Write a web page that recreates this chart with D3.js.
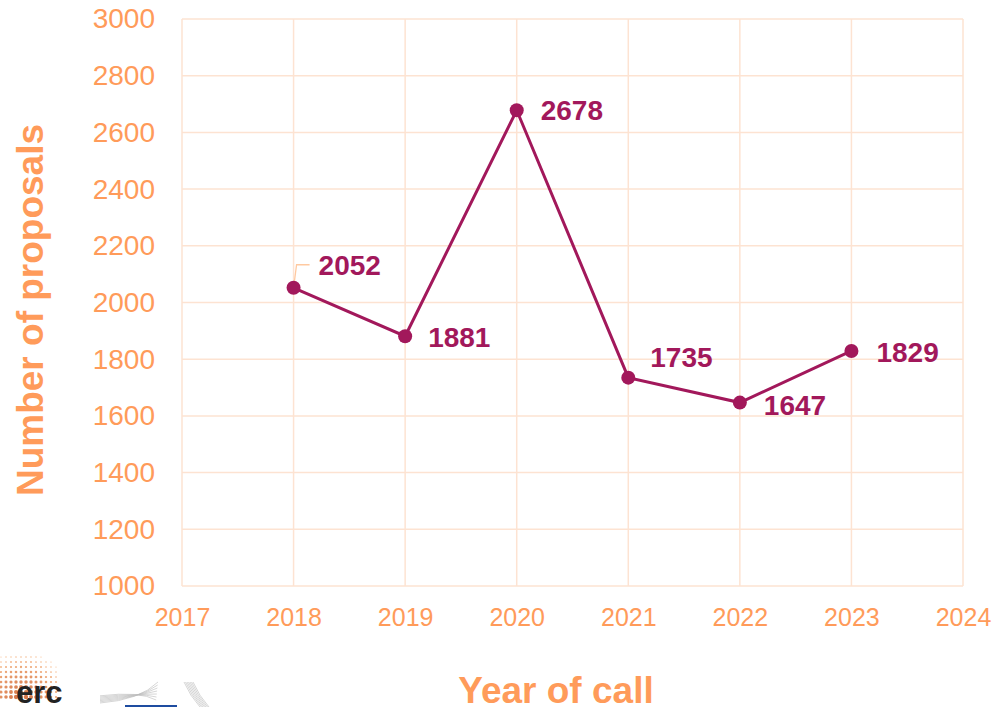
<!DOCTYPE html>
<html>
<head>
<meta charset="utf-8">
<script src="https://d3js.org/d3.v7.min.js"></script>
<style>
  body { margin: 0; background: #fff; }
  svg { font-family: "Liberation Sans", Arial, sans-serif; }
</style>
</head>
<body>
<svg width="992" height="707"></svg>
<script>
    const years = [2018, 2019, 2020, 2021, 2022, 2023];
    const proposals = [2052, 1881, 2678, 1735, 1647, 1829];
    const xTickValues = [2017, 2018, 2019, 2020, 2021, 2022, 2023, 2024];
    const yTickValues = [1000, 1200, 1400, 1600, 1800, 2000, 2200, 2400, 2600, 2800, 3000];
    // label offsets in px relative to the point
    const labelDx = [25, 23, 24, 22, 24, 25];
    const labelDy = [-23, 1, 0, -21, 2, 1];

    const orange = "#FF9B5A";
    const grid = "#FDE3D2";
    const lineColor = "#A2185B";

    const svg = d3.select("svg");
    const x = d3.scaleLinear().domain([2017, 2024]).range([182, 963]);
    const y = d3.scaleLinear().domain([1000, 3000]).range([586, 19]);

    // grid
    svg.append("g").selectAll("line.h").data(yTickValues).enter().append("line")
        .attr("x1", x(2017)).attr("x2", x(2024))
        .attr("y1", d => y(d)).attr("y2", d => y(d))
        .attr("stroke", grid).attr("stroke-width", 1.5);
    svg.append("g").selectAll("line.v").data(xTickValues).enter().append("line")
        .attr("x1", d => x(d)).attr("x2", d => x(d))
        .attr("y1", y(3000)).attr("y2", y(1000))
        .attr("stroke", grid).attr("stroke-width", 1.5);

    // axes
    const yAxis = svg.append("g").attr("transform", "translate(" + x(2017) + ",0)")
        .call(d3.axisLeft(y).tickValues(yTickValues).tickSize(0).tickPadding(27).tickFormat(d3.format("d")));
    yAxis.select(".domain").remove();
    yAxis.selectAll("text").attr("fill", orange).style("font-size", "28px")
        .style("font-family", "Liberation Sans, Arial, sans-serif");

    const xAxis = svg.append("g").attr("transform", "translate(0," + y(1000) + ")")
        .call(d3.axisBottom(x).tickValues(xTickValues).tickSize(0).tickPadding(22).tickFormat(d3.format("d")));
    xAxis.select(".domain").remove();
    xAxis.selectAll("text").attr("fill", orange).style("font-size", "25px")
        .style("font-family", "Liberation Sans, Arial, sans-serif");

    // axis titles
    svg.append("text").attr("x", 556).attr("y", 703).attr("text-anchor", "middle")
        .attr("fill", orange).style("font-size", "37px").style("font-weight", "bold")
        .text("Year of call");
    svg.append("text").attr("transform", "translate(43,310) rotate(-90)").attr("text-anchor", "middle")
        .attr("fill", orange).style("font-size", "37px").style("font-weight", "bold")
        .text("Number of proposals");

    const data = years.map((d, i) => ({ year: d, value: proposals[i], dx: labelDx[i], dy: labelDy[i] }));

    // leader line for the first label
    svg.append("path")
        .attr("d", "M" + x(2018) + "," + y(2052) + " L" + (x(2018) + 3) + "," + (y(2052) - 23) + " L" + (x(2018) + 16) + "," + (y(2052) - 23))
        .attr("fill", "none").attr("stroke", "#FFC9A0").attr("stroke-width", 1.3);

    // line
    svg.append("path").datum(data)
        .attr("d", d3.line().x(d => x(d.year)).y(d => y(d.value)))
        .attr("fill", "none").attr("stroke", lineColor).attr("stroke-width", 3);

    svg.append("g").selectAll("circle").data(data).enter().append("circle")
        .attr("cx", d => x(d.year)).attr("cy", d => y(d.value)).attr("r", 7)
        .attr("fill", lineColor);

    svg.append("g").selectAll("text").data(data).enter().append("text")
        .attr("x", d => x(d.year) + d.dx).attr("y", d => y(d.value) + d.dy)
        .attr("dy", "0.36em")
        .attr("fill", lineColor).style("font-size", "28px").style("font-weight", "bold")
        .text(d => d.value);

    // logos (rough)
    const logo = svg.append("g");
    const dots = [];
    for (let r = 0; r < 10; r++) {
        for (let c = 0; c < 12; c++) {
            const px = 1 + c * 5, py = 652 + r * 5;
            const dist = Math.hypot(px - 22, py - 700);
            if (dist < 48) dots.push({ px: px, py: py, s: 2.4 - dist / 26, far: dist / 48 });
        }
    }
    logo.selectAll("circle").data(dots).enter().append("circle")
        .attr("cx", d => d.px).attr("cy", d => d.py).attr("r", d => Math.max(0.6, d.s))
        .attr("fill", d => d3.interpolateRgb("#C8541E", "#F7B27A")(d.far)).attr("opacity", 0.85);
    logo.append("text").attr("x", 16).attr("y", 703).attr("fill", "#222")
        .style("font-size", "31px").style("font-weight", "bold").text("erc");
    for (let i = 0; i < 7; i++) {
        logo.append("path")
            .attr("d", "M100," + (703 - i * 1.2) + " Q140," + (700 - i * 1.5) + " " + (158 - i * 0.3) + "," + (682 + i * 3))
            .attr("fill", "none").attr("stroke", "#BBB").attr("stroke-width", 0.6);
        logo.append("path")
            .attr("d", "M" + (184 + i * 1.5) + ",682 Q" + (190 + i * 1.5) + ",696 " + (200 + i * 1.5) + ",707")
            .attr("fill", "none").attr("stroke", "#BBB").attr("stroke-width", 0.6);
    }
    logo.append("rect").attr("x", 125).attr("y", 705).attr("width", 52).attr("height", 2).attr("fill", "#1E4CA0");
</script>
</body>
</html>
